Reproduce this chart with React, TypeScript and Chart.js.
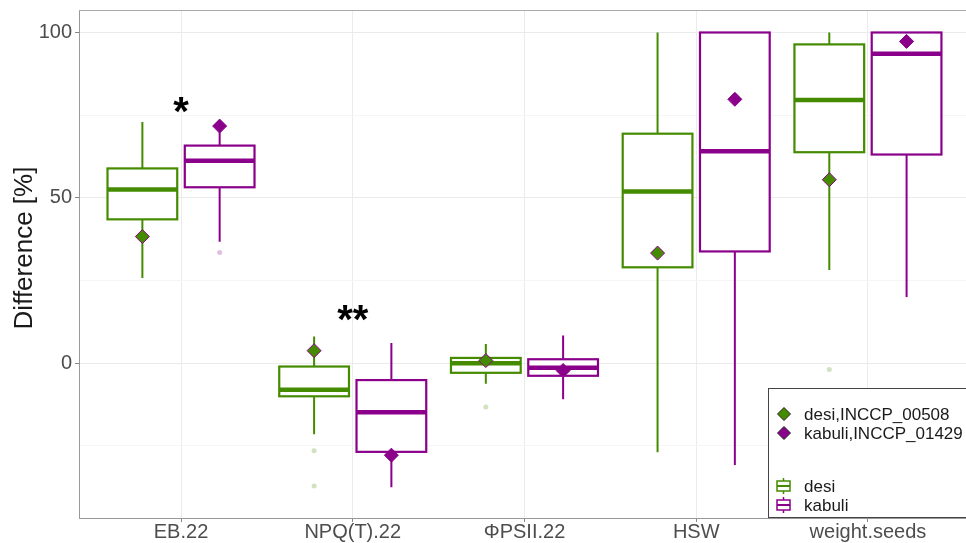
import React, { useEffect, useRef } from 'react';
import { Chart, registerables } from 'chart.js';
Chart.register(...registerables);

const categories = ['EB.22', 'NPQ(T).22', 'ΦPSII.22', 'HSW', 'weight.seeds'];

const desiWhiskerLow = [25.8, -21.5, -6.2, -26.9, 28.2];
const desiQ1 = [43.5, -10.0, -2.9, 29.0, 63.8];
const desiMedian = [52.5, -8.0, 0.0, 51.9, 79.6];
const desiQ3 = [58.9, -1.0, 1.6, 69.4, 96.4];
const desiWhiskerHigh = [72.9, 8.1, 5.8, 100, 100];

const kabuliWhiskerLow = [36.7, -37.5, -10.9, -30.8, 20.0];
const kabuliQ1 = [53.2, -26.8, -3.8, 33.8, 63.1];
const kabuliMedian = [61.2, -14.8, -1.4, 64.1, 93.6];
const kabuliQ3 = [65.8, -5.1, 1.2, 100, 100];
const kabuliWhiskerHigh = [71.0, 6.1, 8.4, 100, 100];

const desiGenotype = [38.3, 3.8, 0.8, 33.3, 55.5];
const kabuliGenotype = [71.7, -27.8, -2.2, 79.8, 97.3];

const desiOutlierCat = [2, 2, 3, 5];
const desiOutlierVal = [-26.5, -37.1, -13.2, -1.9];
const kabuliOutlierCat = [1];
const kabuliOutlierVal = [33.5];

const sigLabels = ['*', '**', '', '', ''];
const sigValues = [77.6, 14.6, 0, 0, 0];

const yTickValues = [-25, 0, 25, 50, 75, 100];
const yLabelValues = [0, 50, 100];

const GREEN = '#458B00';
const PURPLE = '#8B008B';
const OFFSET = 0.225;
const HALF = 0.203;
const FONT = '"Liberation Sans", Arial, Helvetica, sans-serif';

const boxPlugin = {
  id: 'boxes',
  beforeDatasetsDraw(chart: any) {
    const { ctx, scales } = chart;
    const x = scales.x;
    const y = scales.y;
    const groups = [
      { off: -OFFSET, color: GREEN, lo: desiWhiskerLow, q1: desiQ1, med: desiMedian, q3: desiQ3, hi: desiWhiskerHigh },
      { off: OFFSET, color: PURPLE, lo: kabuliWhiskerLow, q1: kabuliQ1, med: kabuliMedian, q3: kabuliQ3, hi: kabuliWhiskerHigh },
    ];
    ctx.save();
    for (const g of groups) {
      for (let i = 0; i < categories.length; i++) {
        const c = i + 1 + g.off;
        const cx = x.getPixelForValue(c);
        const l = x.getPixelForValue(c - HALF);
        const r = x.getPixelForValue(c + HALF);
        const ylo = y.getPixelForValue(g.lo[i]);
        const yq1 = y.getPixelForValue(g.q1[i]);
        const ym = y.getPixelForValue(g.med[i]);
        const yq3 = y.getPixelForValue(g.q3[i]);
        const yhi = y.getPixelForValue(g.hi[i]);
        ctx.strokeStyle = g.color;
        ctx.lineWidth = 2;
        ctx.beginPath();
        ctx.moveTo(cx, yhi);
        ctx.lineTo(cx, yq3);
        ctx.moveTo(cx, yq1);
        ctx.lineTo(cx, ylo);
        ctx.stroke();
        ctx.fillStyle = '#ffffff';
        ctx.fillRect(l, yq3, r - l, yq1 - yq3);
        ctx.lineWidth = 2.2;
        ctx.strokeRect(l, yq3, r - l, yq1 - yq3);
        ctx.lineWidth = 4.5;
        ctx.beginPath();
        ctx.moveTo(l, ym);
        ctx.lineTo(r, ym);
        ctx.stroke();
      }
    }
    ctx.restore();
  },
  afterDraw(chart: any) {
    const { ctx, scales, chartArea } = chart;
    const x = scales.x;
    const y = scales.y;
    ctx.save();
    // top border
    ctx.strokeStyle = '#aaaaaa';
    ctx.lineWidth = 1;
    ctx.beginPath();
    ctx.moveTo(chartArea.left, chartArea.top + 0.5);
    ctx.lineTo(chartArea.right, chartArea.top + 0.5);
    ctx.stroke();

    // significance stars
    ctx.fillStyle = '#000000';
    ctx.font = `bold 40px ${FONT}`;
    ctx.textAlign = 'center';
    ctx.textBaseline = 'alphabetic';
    for (let i = 0; i < sigLabels.length; i++) {
      if (!sigLabels[i]) continue;
      const px = x.getPixelForValue(i + 1);
      const py = y.getPixelForValue(sigValues[i]);
      ctx.fillText(sigLabels[i], px, py + 0.46 * 40);
    }

    // y title
    ctx.save();
    ctx.translate(25, 248);
    ctx.rotate(-Math.PI / 2);
    ctx.font = `26px ${FONT}`;
    ctx.fillStyle = '#1a1a1a';
    ctx.textAlign = 'center';
    ctx.textBaseline = 'middle';
    ctx.fillText('Difference [%]', 0, 0);
    ctx.restore();

    // legend
    const lx = 768.5, ly = 388.5;
    ctx.fillStyle = '#ffffff';
    ctx.fillRect(lx, ly, 220, 129);
    ctx.strokeStyle = '#444444';
    ctx.lineWidth = 1;
    ctx.strokeRect(lx, ly, 220, 129);

    const drawDiamond = (cx: number, cy: number, r: number, fill: string) => {
      ctx.beginPath();
      ctx.moveTo(cx, cy - r);
      ctx.lineTo(cx + r, cy);
      ctx.lineTo(cx, cy + r);
      ctx.lineTo(cx - r, cy);
      ctx.closePath();
      ctx.fillStyle = fill;
      ctx.fill();
      ctx.strokeStyle = '#222222';
      ctx.lineWidth = 1;
      ctx.stroke();
    };
    ctx.font = `17px ${FONT}`;
    ctx.textAlign = 'left';
    ctx.textBaseline = 'middle';
    const entries = [
      { t: 'desi,INCCP_00508', c: GREEN, y: 414 },
      { t: 'kabuli,INCCP_01429', c: PURPLE, y: 433 },
    ];
    for (const e of entries) {
      drawDiamond(784, e.y, 6.5, e.c);
      ctx.fillStyle = '#1a1a1a';
      ctx.fillText(e.t, 804, e.y + 1);
    }
    const boxes = [
      { t: 'desi', c: GREEN, y: 486 },
      { t: 'kabuli', c: PURPLE, y: 505 },
    ];
    for (const b of boxes) {
      ctx.strokeStyle = b.c;
      ctx.lineWidth = 1.5;
      ctx.beginPath();
      ctx.moveTo(783.5, b.y - 8);
      ctx.lineTo(783.5, b.y - 5);
      ctx.moveTo(783.5, b.y + 5);
      ctx.lineTo(783.5, b.y + 8);
      ctx.stroke();
      ctx.strokeRect(777, b.y - 5, 13, 10);
      ctx.lineWidth = 2;
      ctx.beginPath();
      ctx.moveTo(777, b.y);
      ctx.lineTo(790, b.y);
      ctx.stroke();
      ctx.fillStyle = '#1a1a1a';
      ctx.fillText(b.t, 804, b.y + 1);
    }
    ctx.restore();
  },
};

export default function App() {
  const ref = useRef<HTMLCanvasElement | null>(null);
  useEffect(() => {
    if (!ref.current) return;
    const desiGenoData = categories.map((_, i) => ({ x: i + 1 - OFFSET, y: desiGenotype[i] }));
    const kabuliGenoData = categories.map((_, i) => ({ x: i + 1 + OFFSET, y: kabuliGenotype[i] }));
    const desiOut = desiOutlierCat.map((c, i) => ({ x: c - OFFSET, y: desiOutlierVal[i] }));
    const kabuliOut = kabuliOutlierCat.map((c, i) => ({ x: c + OFFSET, y: kabuliOutlierVal[i] }));
    const chart = new Chart(ref.current, {
      type: 'scatter',
      data: {
        datasets: [
          {
            label: 'desi,INCCP_00508',
            data: desiGenoData,
            pointStyle: 'rectRot',
            pointRadius: 7,
            backgroundColor: GREEN,
            borderColor: PURPLE,
            borderWidth: 1,
          },
          {
            label: 'kabuli,INCCP_01429',
            data: kabuliGenoData,
            pointStyle: 'rectRot',
            pointRadius: 7,
            backgroundColor: PURPLE,
            borderColor: PURPLE,
            borderWidth: 1,
          },
          {
            label: 'desi outliers',
            data: desiOut,
            pointRadius: 2.5,
            backgroundColor: 'rgba(69,139,0,0.25)',
            borderWidth: 0,
          },
          {
            label: 'kabuli outliers',
            data: kabuliOut,
            pointRadius: 2.5,
            backgroundColor: 'rgba(139,0,139,0.25)',
            borderWidth: 0,
          },
        ],
      },
      options: {
        animation: false,
        responsive: false,
        maintainAspectRatio: false,
        events: [],
        layout: { autoPadding: false, padding: { top: 10, right: 0, left: 0, bottom: 0 } },
        plugins: { legend: { display: false }, tooltip: { enabled: false } },
        scales: {
          x: {
            type: 'linear',
            min: 0.406,
            max: 5.571,
            afterFit: (s: any) => { s.height = 25; s.paddingLeft = 0; s.paddingRight = 0; },
            afterBuildTicks: (s: any) => { s.ticks = categories.map((_, i) => ({ value: i + 1 })); },
            ticks: {
              autoSkip: false,
              maxRotation: 0,
              padding: -2,
              color: '#4d4d4d',
              font: { family: FONT, size: 20 },
              callback: (v: any) => categories[Math.round(Number(v)) - 1] ?? '',
            },
            grid: { color: '#ebebeb', lineWidth: 1, tickLength: 4, tickColor: '#888888' },
            border: { color: '#999999', width: 1 },
          },
          y: {
            type: 'linear',
            min: -46.8,
            max: 106.8,
            afterFit: (s: any) => { s.width = 79; s.paddingTop = 0; s.paddingBottom = 0; },
            afterBuildTicks: (s: any) => { s.ticks = yTickValues.map((v) => ({ value: v })); },
            ticks: {
              padding: 3,
              color: '#4d4d4d',
              font: { family: FONT, size: 20 },
              callback: (v: any) => (yLabelValues.includes(Number(v)) ? String(v) : ''),
            },
            grid: {
              color: (c: any) => (yLabelValues.includes(c.tick?.value) ? '#ebebeb' : '#f5f5f5'),
              lineWidth: 1,
              tickLength: 4,
              tickColor: (c: any) => (yLabelValues.includes(c.tick?.value) ? '#888888' : 'rgba(0,0,0,0)'),
            },
            border: { color: '#999999', width: 1 },
          },
        },
      },
      plugins: [boxPlugin],
    });
    return () => chart.destroy();
  }, []);
  return (
    <div style={{ position: 'absolute', left: 0, top: 0, width: 966, height: 543, background: '#fff' }}>
      <canvas ref={ref} width={966} height={543} style={{ width: 966, height: 543, display: 'block' }} />
    </div>
  );
}
